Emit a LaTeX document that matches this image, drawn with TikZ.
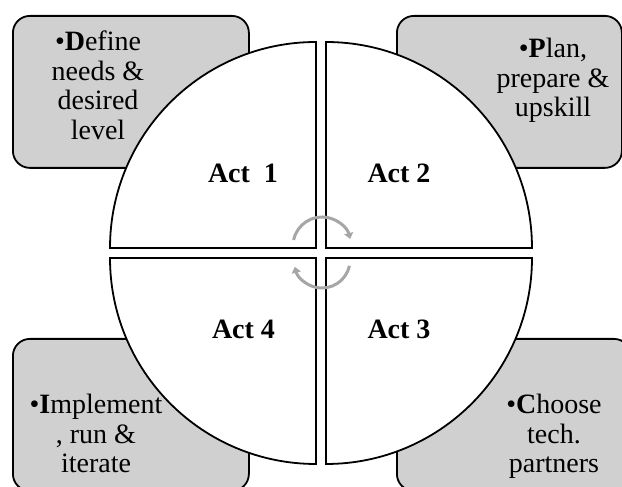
\documentclass[tikz,border=0pt]{standalone}
\usepackage{fontspec}
\setmainfont{Liberation Serif}
\usetikzlibrary{arrows.meta,
                positioning}
\definecolor{boxgray}{RGB}{208,208,208}
\definecolor{cyclegray}{RGB}{166,166,166}

\begin{document}
\begin{tikzpicture}%
    [x = 1pt, y = 1pt,
     stagebox/.style = {draw, line width = 1.8pt, fill = boxgray, rounded corners = 17pt,
                        minimum width = 236pt, minimum height = 152pt, inner sep = 0pt},
     quarter/.style = {draw, line width = 1.8pt, fill = white, line join = miter},
     stagetext/.style = {align = center, anchor = north, inner sep = 0pt,
                         font = \fontsize{28}{29.5}\selectfont},
     acttext/.style = {anchor = base, inner sep = 0pt, font = \fontsize{28}{30}\selectfont\bfseries},
     cycle arrow/.style = {draw = cyclegray, line width = 3pt, -{Triangle[length = 6pt, width = 9pt]}}]
    \useasboundingbox (0,0) rectangle (622,487);

    % grey boxes behind the circle
    \node [stagebox, anchor = north west] (define) at (12,472) {};
    \node [stagebox, anchor = north west, minimum width = 225pt] (plan) at (396,472) {};
    \node [stagebox, anchor = north west] (implement) at (12,149) {};
    \node [stagebox, anchor = north west, minimum width = 234pt] (choose) at (396,149) {};

    % the four quarters
    \draw [quarter] (316,239) -- (110,239) arc [start angle = 180, end angle = 90, radius = 206] -- cycle;
    \draw [quarter] (326,239) -- (326,445) arc [start angle = 90, end angle = 0, radius = 206] -- cycle;
    \draw [quarter] (326,229) -- (532,229) arc [start angle = 0, end angle = -90, radius = 206] -- cycle;
    \draw [quarter] (316,229) -- (316,23) arc [start angle = 270, end angle = 180, radius = 206] -- cycle;

    \draw [cycle arrow] (322,241) ++(168:29) arc [start angle = 168, end angle = 14, radius = 29];
    \draw [cycle arrow] (322,227) ++(-12:28) arc [start angle = -12, end angle = -166, radius = 28];

    \node [acttext] (act1) at (243,304) {Act\ \ 1};
    \node [acttext] (act2) at (399,304) {Act 2};
    \node [acttext] (act3) at (399,148) {Act 3};
    \node [acttext] (act4) at (243.5,148) {Act 4};

    \node [stagetext] (definetext) at (98,456) {•\textbf{D}efine\\needs \&\\desired\\level};
    \node [stagetext] (plantext) at (553,449) {•\textbf{P}lan,\\prepare \&\\upskill};
    \node [stagetext] (implementtext) at (96,93) {•\textbf{I}mplement\\, run \&\\iterate};
    \node [stagetext] (choosetext) at (554,93) {•\textbf{C}hoose\\tech.\\partners};
\end{tikzpicture}
\end{document}
